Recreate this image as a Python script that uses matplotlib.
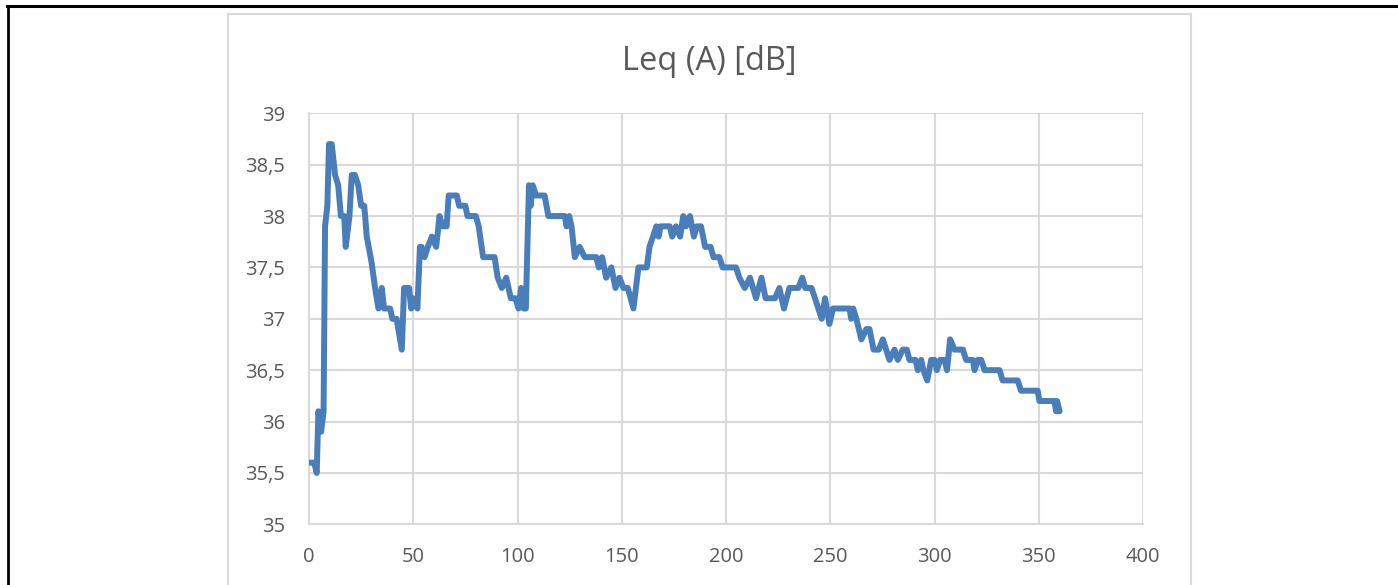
import matplotlib.pyplot as plt
from matplotlib.patches import Rectangle
from matplotlib.lines import Line2D

# time [s] and Leq (A) [dB]
t = [0, 2.5, 3.7, 4.5, 5.8, 7, 7.7, 8.8, 9.6, 10.9, 12.5, 14, 15.3, 16.9,
     17.6, 19.4, 20.5, 22, 23.6, 25, 26.5, 27.7, 30, 31.7, 33.3, 34.9, 36,
     38.9, 40, 42, 44.5, 45.6, 48, 49, 50, 52, 53.2, 54, 55.4, 57, 58.9, 61,
     62.6, 64, 66, 67, 70.9, 72, 75, 76, 80, 81.4, 83.5, 89, 90.5, 92.5,
     94.6, 96.8, 99, 100.5, 101.7, 103, 104, 105.5, 106.3, 107.3, 108.9,
     113, 114.8, 122.7, 123.5, 124.8, 125.9, 127.5, 129.8, 132.2, 137.8,
     139, 140.6, 142.5, 145, 147, 148.9, 150.8, 152.9, 155.6, 158, 162,
     163.3, 165, 166.6, 167.7, 168.6, 173, 174.2, 176, 178, 179.5, 180.8,
     182.7, 184.6, 186, 188, 190, 192.6, 194, 196.8, 198.4, 204.8, 206.4,
     209, 211.5, 214.4, 217, 219, 223.5, 225.6, 227.8, 230.4, 234.7, 236.6,
     238, 241, 242.7, 245.9, 247.5, 249.6, 251.3, 259.3, 260, 261, 262.5,
     264.9, 267.3, 268.8, 270.8, 273.3, 275.2, 278.4, 280.8, 282.4, 284.8,
     286.7, 288, 290.9, 292, 293.6, 294.7, 296.5, 298.4, 300, 301.1, 302.7,
     304.8, 306, 307.5, 309.6, 313.6, 315.2, 318.4, 319.2, 320.8, 322.4,
     324, 331.2, 332.7, 339.9, 341.5, 348.7, 349.5, 350.3, 357.5, 358.3,
     358.8, 360]
leq = [35.6, 35.6, 35.5, 36.1, 35.9, 36.1, 37.9, 38.1, 38.7, 38.7, 38.4,
       38.3, 38.0, 38.0, 37.7, 38.0, 38.4, 38.4, 38.3, 38.1, 38.1, 37.8,
       37.55, 37.3, 37.1, 37.3, 37.1, 37.1, 37.0, 37.0, 36.7, 37.3, 37.3,
       37.1, 37.2, 37.1, 37.7, 37.7, 37.6, 37.7, 37.8, 37.7, 38.0, 37.9,
       37.9, 38.2, 38.2, 38.1, 38.1, 38.0, 38.0, 37.9, 37.6, 37.6, 37.4,
       37.3, 37.4, 37.2, 37.2, 37.1, 37.3, 37.1, 37.1, 38.3, 38.1, 38.3,
       38.2, 38.2, 38.0, 38.0, 37.9, 38.0, 37.9, 37.6, 37.7, 37.6, 37.6,
       37.5, 37.6, 37.4, 37.5, 37.3, 37.4, 37.3, 37.3, 37.1, 37.5, 37.5,
       37.7, 37.8, 37.9, 37.8, 37.9, 37.9, 37.8, 37.9, 37.8, 38.0, 37.9,
       38.0, 37.8, 37.9, 37.9, 37.7, 37.7, 37.6, 37.6, 37.5, 37.5, 37.4,
       37.3, 37.4, 37.2, 37.4, 37.2, 37.2, 37.3, 37.1, 37.3, 37.3, 37.4,
       37.3, 37.3, 37.2, 37.0, 37.2, 36.95, 37.1, 37.1, 37.0, 37.1, 37.0,
       36.8, 36.9, 36.9, 36.7, 36.7, 36.8, 36.6, 36.7, 36.6, 36.7, 36.7,
       36.6, 36.6, 36.5, 36.6, 36.5, 36.4, 36.6, 36.6, 36.5, 36.6, 36.6,
       36.5, 36.8, 36.7, 36.7, 36.6, 36.6, 36.5, 36.6, 36.6, 36.5, 36.5,
       36.4, 36.4, 36.3, 36.3, 36.3, 36.2, 36.2, 36.1, 36.2, 36.1]

x_ticks = [0, 50, 100, 150, 200, 250, 300, 350, 400]
y_ticks = [35, 35.5, 36, 36.5, 37, 37.5, 38, 38.5, 39]
y_labels = ["35", "35,5", "36", "36,5", "37", "37,5", "38", "38,5", "39"]

W, H = 1398, 585
plt.rcParams["font.family"] = ["Open Sans", "DejaVu Sans"]
fig = plt.figure(figsize=(W / 100, H / 100), dpi=100)

grey = "#d9d9d9"
txt = "#595959"

# document frame (top and left black rules) and chart area border
fig.add_artist(Line2D([7 / W, 1], [1 - 6 / H, 1 - 6 / H], color="black", lw=2.2,
                      transform=fig.transFigure))
fig.add_artist(Line2D([8.3 / W, 8.3 / W], [0, 1 - 6 / H], color="black", lw=2.0,
                      transform=fig.transFigure))
fig.add_artist(Rectangle((227.5 / W, -0.05), (1191 - 227.5) / W, 1.05 - 14.5 / H,
                         transform=fig.transFigure, fill=False,
                         edgecolor=grey, lw=1.5))

ax = fig.add_axes([309 / W, 60.7 / H, (1143 - 309) / W, (524.3 - 113.3) / H])
ax.plot(t, leq, color="#4a7ebb", lw=4.3, solid_joinstyle="round",
        solid_capstyle="round", zorder=3)

ax.set_xlim(0, 400)
ax.set_ylim(35, 39)
ax.set_xticks(x_ticks)
ax.set_yticks(y_ticks)
ax.set_yticklabels(y_labels)
ax.tick_params(length=0, labelsize=14.5, labelcolor=txt)
ax.tick_params(axis="x", pad=16)
ax.tick_params(axis="y", pad=17)
ax.grid(True, color=grey, lw=1.5)
ax.set_axisbelow(True)
for s in ["top", "right"]:
    ax.spines[s].set_visible(False)
for s in ["left", "bottom"]:
    ax.spines[s].set_color(grey)
    ax.spines[s].set_linewidth(1.5)

fig.text(709 / W, 1 - 62 / H, "Leq (A) [dB]", ha="center", va="center",
         fontsize=23.5, color=txt)

fig.savefig("out.png", dpi=100)
